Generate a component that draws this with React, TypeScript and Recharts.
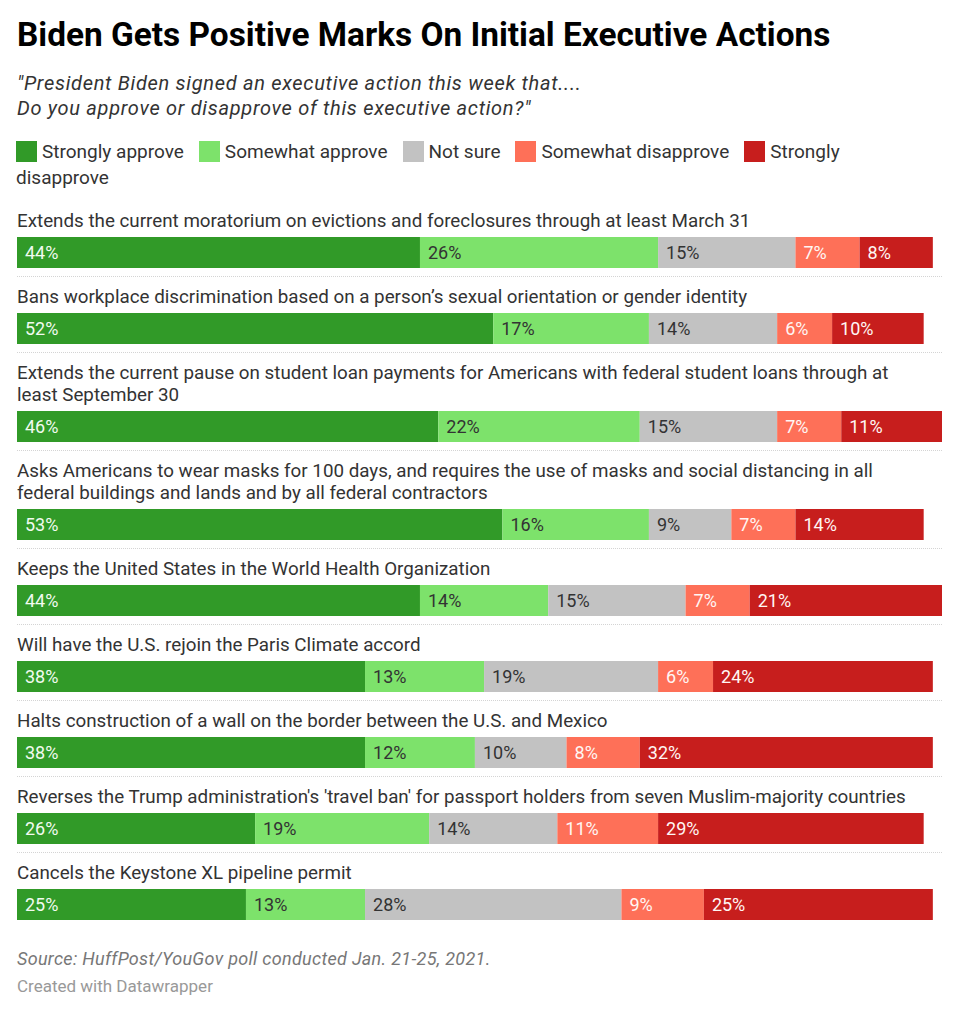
import { Fragment } from "react"
import { Bar, BarChart, LabelList, XAxis, YAxis } from "recharts"

const actions = [
  "Extends the current moratorium on evictions and foreclosures through at least March 31",
  "Bans workplace discrimination based on a person’s sexual orientation or gender identity",
  "Extends the current pause on student loan payments for Americans with federal student loans through at least September 30",
  "Asks Americans to wear masks for 100 days, and requires the use of masks and social distancing in all federal buildings and lands and by all federal contractors",
  "Keeps the United States in the World Health Organization",
  "Will have the U.S. rejoin the Paris Climate accord",
  "Halts construction of a wall on the border between the U.S. and Mexico",
  "Reverses the Trump administration's 'travel ban' for passport holders from seven Muslim-majority countries",
  "Cancels the Keystone XL pipeline permit",
]

const stronglyApprove = [44, 52, 46, 53, 44, 38, 38, 26, 25]
const somewhatApprove = [26, 17, 22, 16, 14, 13, 12, 19, 13]
const notSure = [15, 14, 15, 9, 15, 19, 10, 14, 28]
const somewhatDisapprove = [7, 6, 7, 7, 7, 6, 8, 11, 9]
const stronglyDisapprove = [8, 10, 11, 14, 21, 24, 32, 29, 25]

const seriesNames = ["Strongly approve", "Somewhat approve", "Not sure", "Somewhat disapprove", "Strongly disapprove"]

const series = [
  { key: "sa", name: seriesNames[0], values: stronglyApprove, color: "#319a28", text: "#f2fbf0" },
  { key: "wa", name: seriesNames[1], values: somewhatApprove, color: "#7de26b", text: "#333333" },
  { key: "ns", name: seriesNames[2], values: notSure, color: "#c2c2c2", text: "#333333" },
  { key: "wd", name: seriesNames[3], values: somewhatDisapprove, color: "#fe7058", text: "#fff6f4" },
  { key: "sd", name: seriesNames[4], values: stronglyDisapprove, color: "#c71e1d", text: "#fff6f4" },
]

const FONT = "Roboto, 'Noto Sans', sans-serif"

const makeLabel = (fill: string) => (props: any) => {
  const { x, y, height, value } = props
  return (
    <text
      x={Number(x) + 8}
      y={Number(y) + Number(height) / 2}
      dominantBaseline="central"
      fill={fill}
      fontSize={18}
      fontFamily={FONT}
    >
      {value}%
    </text>
  )
}

function ActionRow({ index }: { index: number }) {
  const row: Record<string, any> = { name: actions[index] }
  series.forEach((s) => {
    row[s.key] = s.values[index]
  })
  const last = index === actions.length - 1
  return (
    <div
      style={{
        marginTop: index === 0 ? 0 : 9,
        paddingBottom: last ? 0 : 8,
        borderBottom: last ? "none" : "1px dotted #d4d4d4",
      }}
    >
      <div style={{ fontSize: 18.8, lineHeight: "22px", color: "#333", width: 900 }}>{actions[index]}</div>
      <div style={{ marginTop: 5 }}>
        <BarChart
          width={925}
          height={31}
          layout="vertical"
          data={[row]}
          margin={{ top: 0, right: 0, bottom: 0, left: 0 }}
          barCategoryGap={0}
        >
          <XAxis type="number" domain={[0, 101]} hide />
          <YAxis type="category" dataKey="name" hide />
          {series.map((s) => (
            <Bar key={s.key} dataKey={s.key} stackId="a" fill={s.color} isAnimationActive={false}>
              <LabelList dataKey={s.key} content={makeLabel(s.text)} />
            </Bar>
          ))}
        </BarChart>
      </div>
    </div>
  )
}

export default function App() {
  return (
    <div style={{ fontFamily: FONT, paddingTop: 8, paddingLeft: 9, width: 925 }}>
      <div style={{ fontSize: 33.4, fontWeight: 700, lineHeight: "38px", color: "#000" }}>
        Biden Gets Positive Marks On Initial Executive Actions
      </div>
      <div
        style={{
          marginTop: 17,
          fontSize: 20,
          fontStyle: "italic",
          lineHeight: "25px",
          letterSpacing: 0.7,
          color: "#333",
        }}
      >
        "President Biden signed an executive action this week that....
        <br />
        Do you approve or disapprove of this executive action?"
      </div>
      {/* legend wraps like inline text; words kept in separate spans so the wrapped item stays tidy */}
      <div style={{ marginTop: 17.5, fontSize: 19, lineHeight: "26px", color: "#333", width: 880, marginLeft: -1 }}>
        {series.map((s, i) => (
          <Fragment key={s.key}>
            <span
              style={{
                display: "inline-block",
                width: 21,
                height: 21,
                background: s.color,
                verticalAlign: "-4px",
                marginRight: 5,
              }}
            />
            {s.name.split(" ").map((w, j, arr) => (
              <Fragment key={j}>
                <span style={{ marginRight: j === arr.length - 1 && i < series.length - 1 ? 15 : 0 }}>{w}</span>
                {j < arr.length - 1 ? " " : null}
              </Fragment>
            ))}
          </Fragment>
        ))}
      </div>
      <div style={{ marginTop: 19.5 }}>
        {actions.map((_, i) => (
          <ActionRow key={i} index={i} />
        ))}
      </div>
      <div
        style={{
          marginTop: 27,
          fontSize: 18,
          fontStyle: "italic",
          lineHeight: "24px",
          letterSpacing: 0.3,
          color: "#777",
        }}
      >
        Source: HuffPost/YouGov poll conducted Jan. 21-25, 2021.
      </div>
      <div style={{ marginTop: 4, fontSize: 17, lineHeight: "22px", color: "#999" }}>Created with Datawrapper</div>
    </div>
  )
}
